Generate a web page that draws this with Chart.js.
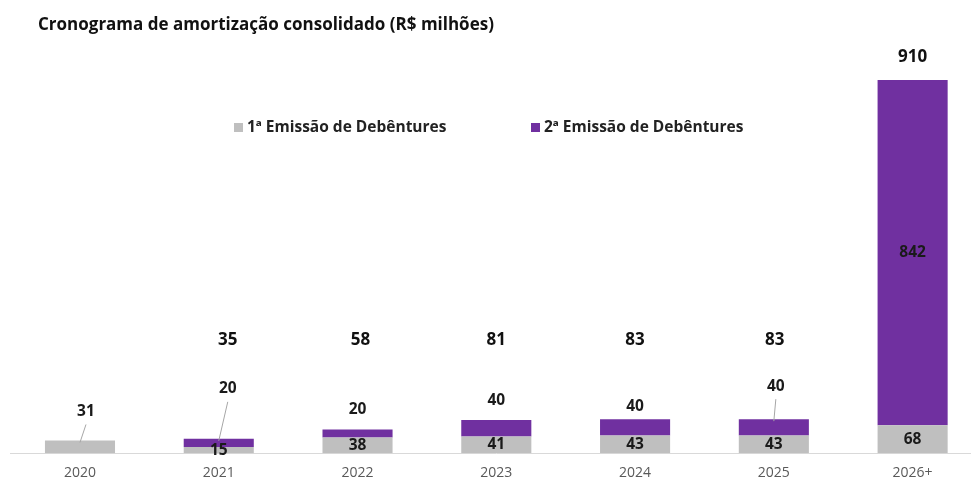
<!DOCTYPE html>
<html>
<head>
<meta charset="utf-8">
<script src="https://cdn.jsdelivr.net/npm/chart.js@4"></script>
<style>
html,body{margin:0;padding:0;background:#fff;overflow:hidden;}
#wrap{position:relative;width:971px;height:477px;overflow:hidden;}
#box{position:absolute;left:0;top:0;width:992px;height:500px;}
#title{position:absolute;left:38px;top:12px;font:bold 17px "Open Sans",sans-serif;color:#111;white-space:nowrap;}
</style>
</head>
<body>
<div id="wrap">
  <div id="box"><canvas id="chart"></canvas></div>
  <div id="title">Cronograma de amortização consolidado (R$ milhões)</div>
</div>
<script>
// dados
const anos = ['2020','2021','2022','2023','2024','2025','2026+'];
const emissao1 = [31,15,38,41,43,43,68];
const emissao2 = [0,20,20,40,40,40,842];
const totais = [null,35,58,81,83,83,910];
const nomes = ['1ª Emissão de Debêntures','2ª Emissão de Debêntures'];
const cores = ['#BFBFBF','#7030A0'];

// rótulos deslocados (px acima do topo da barra), null = centro do segmento
const subirCinza = [29,null,null,null,null,null,null];
const subirRoxo  = [null,50,20,19,13,33,null];
const puxarX     = [6,9,0,0,0,2,0];
const comLinha   = [[true,false,false,false,false,false,false],[false,true,false,false,false,true,false]];
const totalDx    = [0,9,3,0,0,1,0];
const nivelTotal = 275;

const FONTE = '"Open Sans", sans-serif';

const rotulos = {
  id:'rotulos',
  afterDatasetsDraw(chart){
    const ctx = chart.ctx, ys = chart.scales.y;
    ctx.save();
    ctx.textAlign='center'; ctx.textBaseline='middle';
    chart.data.datasets.forEach((ds,di)=>{
      const meta = chart.getDatasetMeta(di);
      const subir = di===0 ? subirCinza : subirRoxo;
      meta.data.forEach((bar,i)=>{
        const v = ds.data[i];
        if(!v) return;
        let lx = bar.x, ly = (bar.y+bar.base)/2;
        if(subir[i]!=null){
          ly = bar.y - subir[i];
          lx = bar.x + puxarX[i];
          if(comLinha[di][i]){
            ctx.strokeStyle='#A6A6A6'; ctx.lineWidth=1;
            ctx.beginPath(); ctx.moveTo(bar.x, bar.y+2); ctx.lineTo(lx, ly+13); ctx.stroke();
          }
        }
        ctx.fillStyle='#1a1a1a';
        ctx.font='bold 15.5px '+FONTE;
        ctx.fillText(v, lx, ly);
      });
    });
    // totais
    const m0 = chart.getDatasetMeta(1);
    totais.forEach((t,i)=>{
      if(t==null) return;
      const bar = m0.data[i];
      let ty = Math.min(ys.getPixelForValue(nivelTotal), bar.y - 23);
      ctx.fillStyle='#111';
      ctx.font='bold 17px '+FONTE;
      ctx.fillText(t, bar.x + totalDx[i], ty);
    });
    // legenda
    const legX = [234,531];
    ctx.textAlign='left';
    ctx.font='bold 15.5px '+FONTE;
    nomes.forEach((n,k)=>{
      ctx.fillStyle=cores[k];
      ctx.fillRect(legX[k],123,9,9);
      ctx.fillStyle='#222';
      ctx.fillText(n, legX[k]+13, 128);
    });
    ctx.restore();
  }
};

new Chart(document.getElementById('chart'),{
  type:'bar',
  data:{
    labels: anos,
    datasets:[
      {label:nomes[0], data:emissao1, backgroundColor:cores[0]},
      {label:nomes[1], data:emissao2, backgroundColor:cores[1]}
    ]
  },
  options:{
    responsive:true, maintainAspectRatio:false, animation:false,
    layout:{padding:{top:43,left:10.6,right:10,bottom:8}},
    categoryPercentage:1, barPercentage:0.505,
    plugins:{legend:{display:false}, tooltip:{enabled:false}},
    scales:{
      x:{stacked:true, grid:{display:false, drawTicks:false},
         border:{display:true,color:'#D9D9D9',width:1},
         ticks:{color:'#595959', font:{family:FONTE,size:14}, padding:11}},
      y:{stacked:true, display:false, min:0, max:1000}
    }
  },
  plugins:[rotulos]
});
</script>
</body>
</html>
